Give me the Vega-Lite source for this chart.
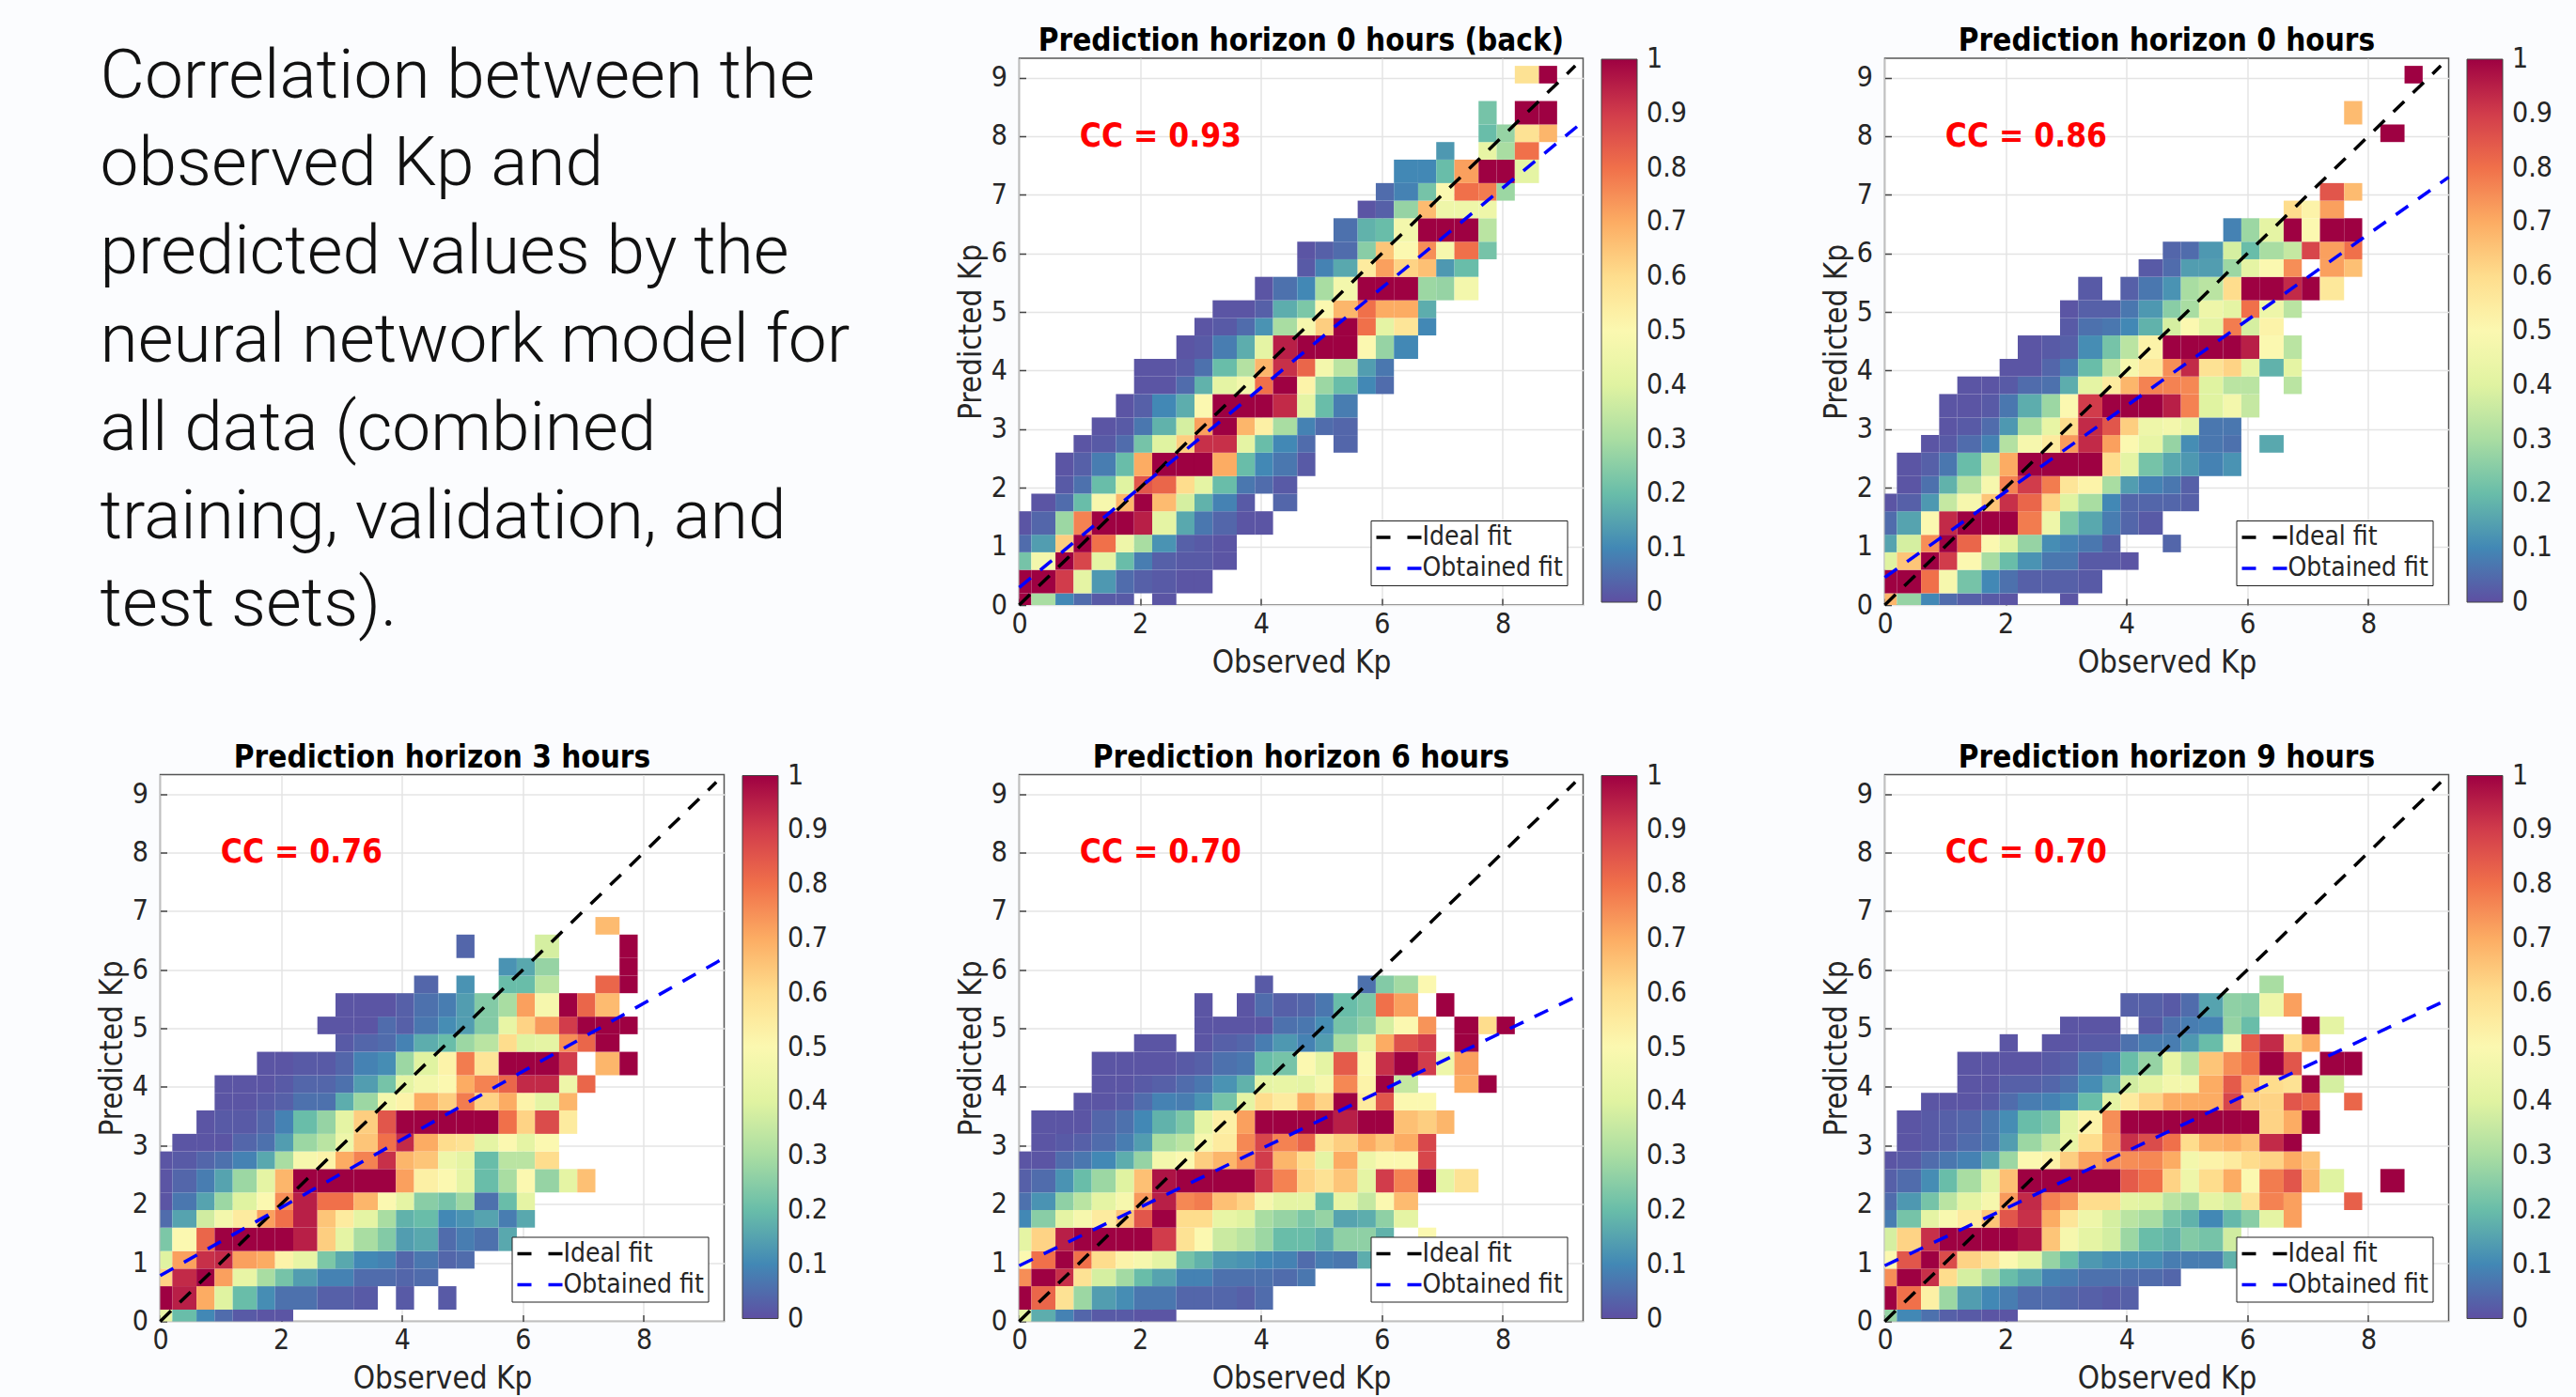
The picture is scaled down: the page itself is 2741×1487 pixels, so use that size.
{"$schema":"https://vega.github.io/schema/vega-lite/v6.json","background":"#fbfcfe","padding":{"left":102.5,"top":27,"right":32,"bottom":7},"bounds":"flush","columns":5,"spacing":{"row":180.5,"column":0},"resolve":{"scale":{"color":"independent","stroke":"independent"},"legend":{"color":"independent","stroke":"independent"}},
"config":{"view":{"stroke":"#555","strokeWidth":1.5,"fill":"white"},"font":"DejaVu Sans Condensed","title":{"font":"DejaVu Sans Condensed","fontSize":33,"fontWeight":"bold","color":"#000","offset":1},"axis":{"labelFont":"DejaVu Sans Condensed","titleFont":"DejaVu Sans Condensed","labelFontSize":30,"titleFontSize":33,"titleFontWeight":"normal","labelColor":"#262626","titleColor":"#262626","gridColor":"#e4e4e4","gridWidth":1.5,"domain":false,"tickColor":"#444","tickSize":-7,"tickWidth":1.5,"labelPadding":12,"titlePadding":10,"labelOverlap":false,"labelFlush":false},"axisY":{"labelPadding":20,"titlePadding":4},"legend":{"labelFont":"DejaVu Sans Condensed","labelFontSize":30,"labelColor":"#262626"}},
"datasets":{
"bins":[{"i":0,"lo":0,"hi":0.2},{"i":1,"lo":0.2,"hi":0.6},{"i":2,"lo":0.6,"hi":0.9},{"i":3,"lo":0.9,"hi":1.2},{"i":4,"lo":1.2,"hi":1.6},{"i":5,"lo":1.6,"hi":1.9},{"i":6,"lo":1.9,"hi":2.2},{"i":7,"lo":2.2,"hi":2.6},{"i":8,"lo":2.6,"hi":2.9},{"i":9,"lo":2.9,"hi":3.2},{"i":10,"lo":3.2,"hi":3.6},{"i":11,"lo":3.6,"hi":3.9},{"i":12,"lo":3.9,"hi":4.2},{"i":13,"lo":4.2,"hi":4.6},{"i":14,"lo":4.6,"hi":4.9},{"i":15,"lo":4.9,"hi":5.2},{"i":16,"lo":5.2,"hi":5.6},{"i":17,"lo":5.6,"hi":5.9},{"i":18,"lo":5.9,"hi":6.2},{"i":19,"lo":6.2,"hi":6.6},{"i":20,"lo":6.6,"hi":6.9},{"i":21,"lo":6.9,"hi":7.2},{"i":22,"lo":7.2,"hi":7.6},{"i":23,"lo":7.6,"hi":7.9},{"i":24,"lo":7.9,"hi":8.2},{"i":25,"lo":8.2,"hi":8.6},{"i":26,"lo":8.6,"hi":8.9},{"i":27,"lo":8.9,"hi":9.2}],
"intro":[{"line":1,"text":"Correlation between the"},{"line":2,"text":"observed Kp and"},{"line":3,"text":"predicted values by the"},{"line":4,"text":"neural network model for"},{"line":5,"text":"all data (combined"},{"line":6,"text":"training, validation, and"},{"line":7,"text":"test sets)."}],
"f1":[{"fit":"Ideal fit","x":0,"y":0},{"fit":"Ideal fit","x":9.2,"y":9.2},{"fit":"Obtained fit","x":0,"y":0.3},{"fit":"Obtained fit","x":9.33,"y":8.25}],
"f2":[{"fit":"Ideal fit","x":0,"y":0},{"fit":"Ideal fit","x":9.2,"y":9.2},{"fit":"Obtained fit","x":0,"y":0.47},{"fit":"Obtained fit","x":9.33,"y":7.3}],
"f3":[{"fit":"Ideal fit","x":0,"y":0},{"fit":"Ideal fit","x":9.2,"y":9.2},{"fit":"Obtained fit","x":0,"y":0.78},{"fit":"Obtained fit","x":9.33,"y":6.2}],
"f4":[{"fit":"Ideal fit","x":0,"y":0},{"fit":"Ideal fit","x":9.2,"y":9.2},{"fit":"Obtained fit","x":0,"y":0.95},{"fit":"Obtained fit","x":9.33,"y":5.6}],
"f5":[{"fit":"Ideal fit","x":0,"y":0},{"fit":"Ideal fit","x":9.2,"y":9.2},{"fit":"Obtained fit","x":0,"y":0.95},{"fit":"Obtained fit","x":9.33,"y":5.5}],
"p1":[
{"i":0,"j":0,"v":1},{"i":1,"j":0,"v":0.3},{"i":2,"j":0,"v":0.1},{"i":3,"j":0,"v":0.05},{"i":4,"j":0,"v":0.02},{"i":5,"j":0,"v":0.02},{"i":7,"j":0,"v":0.01},
{"i":0,"j":1,"v":1},{"i":1,"j":1,"v":1},{"i":2,"j":1,"v":0.9},{"i":3,"j":1,"v":0.42},{"i":4,"j":1,"v":0.13},{"i":5,"j":1,"v":0.05},{"i":6,"j":1,"v":0.03},{"i":7,"j":1,"v":0.02},{"i":8,"j":1,"v":0.01},{"i":9,"j":1,"v":0.01},
{"i":0,"j":2,"v":0.22},{"i":1,"j":2,"v":0.47},{"i":2,"j":2,"v":1},{"i":3,"j":2,"v":0.88},{"i":4,"j":2,"v":0.42},{"i":5,"j":2,"v":0.2},{"i":6,"j":2,"v":0.08},{"i":7,"j":2,"v":0.03},{"i":8,"j":2,"v":0.02},{"i":9,"j":2,"v":0.02},{"i":10,"j":2,"v":0.01},
{"i":0,"j":3,"v":0.05},{"i":1,"j":3,"v":0.14},{"i":2,"j":3,"v":0.63},{"i":3,"j":3,"v":1},{"i":4,"j":3,"v":0.8},{"i":5,"j":3,"v":0.45},{"i":6,"j":3,"v":0.3},{"i":7,"j":3,"v":0.12},{"i":8,"j":3,"v":0.03},{"i":9,"j":3,"v":0.02},{"i":10,"j":3,"v":0.01},
{"i":0,"j":4,"v":0.01},{"i":1,"j":4,"v":0.04},{"i":2,"j":4,"v":0.28},{"i":3,"j":4,"v":0.77},{"i":4,"j":4,"v":1},{"i":5,"j":4,"v":1},{"i":6,"j":4,"v":0.95},{"i":7,"j":4,"v":0.42},{"i":8,"j":4,"v":0.16},{"i":9,"j":4,"v":0.07},{"i":10,"j":4,"v":0.04},{"i":11,"j":4,"v":0.01},{"i":12,"j":4,"v":0.01},
{"i":1,"j":5,"v":0.01},{"i":2,"j":5,"v":0.05},{"i":3,"j":5,"v":0.2},{"i":4,"j":5,"v":0.48},{"i":5,"j":5,"v":0.68},{"i":6,"j":5,"v":1},{"i":7,"j":5,"v":0.67},{"i":8,"j":5,"v":0.38},{"i":9,"j":5,"v":0.18},{"i":10,"j":5,"v":0.09},{"i":11,"j":5,"v":0.02},{"i":13,"j":5,"v":0.04},
{"i":2,"j":6,"v":0.02},{"i":3,"j":6,"v":0.06},{"i":4,"j":6,"v":0.2},{"i":5,"j":6,"v":0.4},{"i":6,"j":6,"v":0.85},{"i":7,"j":6,"v":0.82},{"i":8,"j":6,"v":0.6},{"i":9,"j":6,"v":0.42},{"i":10,"j":6,"v":0.2},{"i":11,"j":6,"v":0.07},{"i":12,"j":6,"v":0.05},{"i":13,"j":6,"v":0.02},
{"i":2,"j":7,"v":0.01},{"i":3,"j":7,"v":0.03},{"i":4,"j":7,"v":0.08},{"i":5,"j":7,"v":0.2},{"i":6,"j":7,"v":0.7},{"i":7,"j":7,"v":1},{"i":8,"j":7,"v":1},{"i":9,"j":7,"v":1},{"i":10,"j":7,"v":0.7},{"i":11,"j":7,"v":0.2},{"i":12,"j":7,"v":0.1},{"i":13,"j":7,"v":0.07},{"i":14,"j":7,"v":0.02},
{"i":3,"j":8,"v":0.01},{"i":4,"j":8,"v":0.02},{"i":5,"j":8,"v":0.05},{"i":6,"j":8,"v":0.22},{"i":7,"j":8,"v":0.4},{"i":8,"j":8,"v":0.63},{"i":9,"j":8,"v":0.92},{"i":10,"j":8,"v":0.92},{"i":11,"j":8,"v":0.42},{"i":12,"j":8,"v":0.2},{"i":13,"j":8,"v":0.1},{"i":14,"j":8,"v":0.05},{"i":16,"j":8,"v":0.04},
{"i":4,"j":9,"v":0.01},{"i":5,"j":9,"v":0.02},{"i":6,"j":9,"v":0.07},{"i":7,"j":9,"v":0.18},{"i":8,"j":9,"v":0.38},{"i":9,"j":9,"v":0.72},{"i":10,"j":9,"v":1},{"i":11,"j":9,"v":0.68},{"i":12,"j":9,"v":0.53},{"i":13,"j":9,"v":0.3},{"i":14,"j":9,"v":0.09},{"i":15,"j":9,"v":0.05},{"i":16,"j":9,"v":0.04},
{"i":5,"j":10,"v":0.01},{"i":6,"j":10,"v":0.03},{"i":7,"j":10,"v":0.1},{"i":8,"j":10,"v":0.17},{"i":9,"j":10,"v":0.5},{"i":10,"j":10,"v":1},{"i":11,"j":10,"v":1},{"i":12,"j":10,"v":1},{"i":13,"j":10,"v":0.93},{"i":14,"j":10,"v":0.42},{"i":15,"j":10,"v":0.2},{"i":16,"j":10,"v":0.08},
{"i":6,"j":11,"v":0.01},{"i":7,"j":11,"v":0.01},{"i":8,"j":11,"v":0.05},{"i":9,"j":11,"v":0.18},{"i":10,"j":11,"v":0.42},{"i":11,"j":11,"v":0.47},{"i":12,"j":11,"v":0.8},{"i":13,"j":11,"v":1},{"i":14,"j":11,"v":0.52},{"i":15,"j":11,"v":0.28},{"i":16,"j":11,"v":0.2},{"i":17,"j":11,"v":0.1},{"i":18,"j":11,"v":0.05},
{"i":6,"j":12,"v":0.01},{"i":7,"j":12,"v":0.01},{"i":8,"j":12,"v":0.02},{"i":9,"j":12,"v":0.06},{"i":10,"j":12,"v":0.2},{"i":11,"j":12,"v":0.32},{"i":12,"j":12,"v":0.68},{"i":13,"j":12,"v":0.92},{"i":14,"j":12,"v":0.82},{"i":15,"j":12,"v":0.47},{"i":16,"j":12,"v":0.33},{"i":17,"j":12,"v":0.14},{"i":18,"j":12,"v":0.07},
{"i":8,"j":13,"v":0.01},{"i":9,"j":13,"v":0.02},{"i":10,"j":13,"v":0.08},{"i":11,"j":13,"v":0.17},{"i":12,"j":13,"v":0.42},{"i":13,"j":13,"v":0.95},{"i":14,"j":13,"v":1},{"i":15,"j":13,"v":1},{"i":16,"j":13,"v":1},{"i":17,"j":13,"v":0.5},{"i":18,"j":13,"v":0.27},{"i":19,"j":13,"v":0.1},
{"i":9,"j":14,"v":0.01},{"i":10,"j":14,"v":0.02},{"i":11,"j":14,"v":0.05},{"i":12,"j":14,"v":0.12},{"i":13,"j":14,"v":0.3},{"i":14,"j":14,"v":0.48},{"i":15,"j":14,"v":0.63},{"i":16,"j":14,"v":1},{"i":17,"j":14,"v":0.8},{"i":18,"j":14,"v":0.42},{"i":19,"j":14,"v":0.57},{"i":20,"j":14,"v":0.1},
{"i":10,"j":15,"v":0.01},{"i":11,"j":15,"v":0.01},{"i":12,"j":15,"v":0.03},{"i":13,"j":15,"v":0.17},{"i":14,"j":15,"v":0.23},{"i":15,"j":15,"v":0.5},{"i":16,"j":15,"v":0.68},{"i":17,"j":15,"v":0.8},{"i":18,"j":15,"v":0.7},{"i":19,"j":15,"v":0.7},{"i":20,"j":15,"v":0.17},
{"i":12,"j":16,"v":0.01},{"i":13,"j":16,"v":0.06},{"i":14,"j":16,"v":0.1},{"i":15,"j":16,"v":0.3},{"i":16,"j":16,"v":0.47},{"i":17,"j":16,"v":1},{"i":18,"j":16,"v":1},{"i":19,"j":16,"v":1},{"i":20,"j":16,"v":0.28},{"i":21,"j":16,"v":0.27},{"i":22,"j":16,"v":0.47},
{"i":14,"j":17,"v":0.02},{"i":15,"j":17,"v":0.09},{"i":16,"j":17,"v":0.16},{"i":17,"j":17,"v":0.55},{"i":18,"j":17,"v":0.72},{"i":19,"j":17,"v":0.62},{"i":20,"j":17,"v":0.66},{"i":21,"j":17,"v":0.13},{"i":22,"j":17,"v":0.2},
{"i":14,"j":18,"v":0.01},{"i":15,"j":18,"v":0.03},{"i":16,"j":18,"v":0.05},{"i":17,"j":18,"v":0.25},{"i":18,"j":18,"v":0.65},{"i":19,"j":18,"v":0.5},{"i":20,"j":18,"v":0.75},{"i":21,"j":18,"v":0.48},{"i":22,"j":18,"v":0.8},{"i":23,"j":18,"v":0.22},
{"i":16,"j":19,"v":0.06},{"i":17,"j":19,"v":0.18},{"i":18,"j":19,"v":0.2},{"i":19,"j":19,"v":0.47},{"i":20,"j":19,"v":1},{"i":21,"j":19,"v":1},{"i":22,"j":19,"v":1},{"i":23,"j":19,"v":0.33},
{"i":17,"j":20,"v":0.01},{"i":18,"j":20,"v":0.03},{"i":19,"j":20,"v":0.27},{"i":20,"j":20,"v":0.67},{"i":21,"j":20,"v":0.45},{"i":22,"j":20,"v":0.45},{"i":23,"j":20,"v":0.45},
{"i":18,"j":21,"v":0.05},{"i":19,"j":21,"v":0.09},{"i":20,"j":21,"v":0.22},{"i":21,"j":21,"v":0.5},{"i":22,"j":21,"v":0.8},{"i":23,"j":21,"v":0.78},{"i":24,"j":21,"v":0.28},
{"i":19,"j":22,"v":0.1},{"i":20,"j":22,"v":0.1},{"i":21,"j":22,"v":0.2},{"i":22,"j":22,"v":0.72},{"i":23,"j":22,"v":1},{"i":24,"j":22,"v":1},{"i":25,"j":22,"v":0.42},
{"i":21,"j":23,"v":0.13},{"i":23,"j":23,"v":0.43},{"i":24,"j":23,"v":0.3},{"i":25,"j":23,"v":0.8},
{"i":23,"j":24,"v":0.2},{"i":24,"j":24,"v":0.27},{"i":25,"j":24,"v":0.58},{"i":26,"j":24,"v":0.68},
{"i":23,"j":25,"v":0.22},{"i":25,"j":25,"v":1},{"i":26,"j":25,"v":1},
{"i":25,"j":27,"v":0.58},{"i":26,"j":27,"v":1}],
"p2":[
{"i":0,"j":0,"v":0.68},{"i":1,"j":0,"v":0.27},{"i":2,"j":0,"v":0.1},{"i":3,"j":0,"v":0.05},{"i":4,"j":0,"v":0.03},{"i":5,"j":0,"v":0.02},{"i":6,"j":0,"v":0.01},{"i":9,"j":0,"v":0.01},
{"i":0,"j":1,"v":1},{"i":1,"j":1,"v":1},{"i":2,"j":1,"v":0.8},{"i":3,"j":1,"v":0.48},{"i":4,"j":1,"v":0.22},{"i":5,"j":1,"v":0.1},{"i":6,"j":1,"v":0.06},{"i":7,"j":1,"v":0.03},{"i":8,"j":1,"v":0.03},{"i":9,"j":1,"v":0.03},{"i":10,"j":1,"v":0.02},
{"i":0,"j":2,"v":0.4},{"i":1,"j":2,"v":0.65},{"i":2,"j":2,"v":1},{"i":3,"j":2,"v":0.9},{"i":4,"j":2,"v":0.5},{"i":5,"j":2,"v":0.3},{"i":6,"j":2,"v":0.2},{"i":7,"j":2,"v":0.12},{"i":8,"j":2,"v":0.07},{"i":9,"j":2,"v":0.07},{"i":10,"j":2,"v":0.02},{"i":11,"j":2,"v":0.02},{"i":12,"j":2,"v":0.01},
{"i":0,"j":3,"v":0.15},{"i":1,"j":3,"v":0.38},{"i":2,"j":3,"v":0.75},{"i":3,"j":3,"v":1},{"i":4,"j":3,"v":0.82},{"i":5,"j":3,"v":0.5},{"i":6,"j":3,"v":0.4},{"i":7,"j":3,"v":0.27},{"i":8,"j":3,"v":0.11},{"i":9,"j":3,"v":0.09},{"i":10,"j":3,"v":0.07},{"i":11,"j":3,"v":0.03},{"i":14,"j":3,"v":0.04},
{"i":0,"j":4,"v":0.05},{"i":1,"j":4,"v":0.15},{"i":2,"j":4,"v":0.5},{"i":3,"j":4,"v":0.93},{"i":4,"j":4,"v":1},{"i":5,"j":4,"v":1},{"i":6,"j":4,"v":1},{"i":7,"j":4,"v":0.78},{"i":8,"j":4,"v":0.45},{"i":9,"j":4,"v":0.23},{"i":10,"j":4,"v":0.16},{"i":11,"j":4,"v":0.08},{"i":12,"j":4,"v":0.04},{"i":13,"j":4,"v":0.02},
{"i":0,"j":5,"v":0.01},{"i":1,"j":5,"v":0.03},{"i":2,"j":5,"v":0.13},{"i":3,"j":5,"v":0.35},{"i":4,"j":5,"v":0.48},{"i":5,"j":5,"v":0.65},{"i":6,"j":5,"v":0.92},{"i":7,"j":5,"v":0.82},{"i":8,"j":5,"v":0.62},{"i":9,"j":5,"v":0.4},{"i":10,"j":5,"v":0.3},{"i":11,"j":5,"v":0.1},{"i":12,"j":5,"v":0.04},{"i":13,"j":5,"v":0.04},{"i":14,"j":5,"v":0.04},{"i":15,"j":5,"v":0.03},
{"i":1,"j":6,"v":0.01},{"i":2,"j":6,"v":0.06},{"i":3,"j":6,"v":0.18},{"i":4,"j":6,"v":0.32},{"i":5,"j":6,"v":0.48},{"i":6,"j":6,"v":0.77},{"i":7,"j":6,"v":0.9},{"i":8,"j":6,"v":0.78},{"i":9,"j":6,"v":0.57},{"i":10,"j":6,"v":0.52},{"i":11,"j":6,"v":0.3},{"i":12,"j":6,"v":0.14},{"i":13,"j":6,"v":0.09},{"i":14,"j":6,"v":0.07},{"i":15,"j":6,"v":0.03},
{"i":1,"j":7,"v":0.01},{"i":2,"j":7,"v":0.03},{"i":3,"j":7,"v":0.07},{"i":4,"j":7,"v":0.2},{"i":5,"j":7,"v":0.36},{"i":6,"j":7,"v":0.7},{"i":7,"j":7,"v":1},{"i":8,"j":7,"v":1},{"i":9,"j":7,"v":1},{"i":10,"j":7,"v":1},{"i":11,"j":7,"v":0.6},{"i":12,"j":7,"v":0.42},{"i":13,"j":7,"v":0.22},{"i":14,"j":7,"v":0.16},{"i":15,"j":7,"v":0.13},{"i":16,"j":7,"v":0.09},{"i":17,"j":7,"v":0.12},
{"i":2,"j":8,"v":0.01},{"i":3,"j":8,"v":0.02},{"i":4,"j":8,"v":0.05},{"i":5,"j":8,"v":0.09},{"i":6,"j":8,"v":0.32},{"i":7,"j":8,"v":0.48},{"i":8,"j":8,"v":0.55},{"i":9,"j":8,"v":0.73},{"i":10,"j":8,"v":0.93},{"i":11,"j":8,"v":0.72},{"i":12,"j":8,"v":0.5},{"i":13,"j":8,"v":0.43},{"i":14,"j":8,"v":0.27},{"i":15,"j":8,"v":0.11},{"i":16,"j":8,"v":0.07},{"i":17,"j":8,"v":0.06},{"i":19,"j":8,"v":0.16},
{"i":3,"j":9,"v":0.01},{"i":4,"j":9,"v":0.02},{"i":5,"j":9,"v":0.05},{"i":6,"j":9,"v":0.13},{"i":7,"j":9,"v":0.3},{"i":8,"j":9,"v":0.43},{"i":9,"j":9,"v":0.6},{"i":10,"j":9,"v":0.93},{"i":11,"j":9,"v":0.85},{"i":12,"j":9,"v":0.63},{"i":13,"j":9,"v":0.45},{"i":14,"j":9,"v":0.47},{"i":15,"j":9,"v":0.43},{"i":16,"j":9,"v":0.07},{"i":17,"j":9,"v":0.07},
{"i":3,"j":10,"v":0.01},{"i":4,"j":10,"v":0.01},{"i":5,"j":10,"v":0.02},{"i":6,"j":10,"v":0.07},{"i":7,"j":10,"v":0.17},{"i":8,"j":10,"v":0.28},{"i":9,"j":10,"v":0.5},{"i":10,"j":10,"v":0.9},{"i":11,"j":10,"v":1},{"i":12,"j":10,"v":1},{"i":13,"j":10,"v":1},{"i":14,"j":10,"v":0.95},{"i":15,"j":10,"v":0.77},{"i":16,"j":10,"v":0.4},{"i":17,"j":10,"v":0.47},{"i":18,"j":10,"v":0.35},
{"i":4,"j":11,"v":0.01},{"i":5,"j":11,"v":0.01},{"i":6,"j":11,"v":0.02},{"i":7,"j":11,"v":0.05},{"i":8,"j":11,"v":0.06},{"i":9,"j":11,"v":0.17},{"i":10,"j":11,"v":0.42},{"i":11,"j":11,"v":0.55},{"i":12,"j":11,"v":0.68},{"i":13,"j":11,"v":0.77},{"i":14,"j":11,"v":0.77},{"i":15,"j":11,"v":0.76},{"i":16,"j":11,"v":0.4},{"i":17,"j":11,"v":0.33},{"i":18,"j":11,"v":0.33},{"i":20,"j":11,"v":0.33},
{"i":6,"j":12,"v":0.01},{"i":7,"j":12,"v":0.01},{"i":8,"j":12,"v":0.04},{"i":9,"j":12,"v":0.08},{"i":10,"j":12,"v":0.2},{"i":11,"j":12,"v":0.33},{"i":12,"j":12,"v":0.48},{"i":13,"j":12,"v":0.56},{"i":14,"j":12,"v":0.75},{"i":15,"j":12,"v":0.93},{"i":16,"j":12,"v":0.58},{"i":17,"j":12,"v":0.62},{"i":18,"j":12,"v":0.43},{"i":19,"j":12,"v":0.18},{"i":20,"j":12,"v":0.42},
{"i":7,"j":13,"v":0.01},{"i":8,"j":13,"v":0.02},{"i":9,"j":13,"v":0.03},{"i":10,"j":13,"v":0.11},{"i":11,"j":13,"v":0.22},{"i":12,"j":13,"v":0.33},{"i":13,"j":13,"v":0.52},{"i":14,"j":13,"v":1},{"i":15,"j":13,"v":1},{"i":16,"j":13,"v":1},{"i":17,"j":13,"v":1},{"i":18,"j":13,"v":0.95},{"i":19,"j":13,"v":0.5},{"i":20,"j":13,"v":0.33},
{"i":9,"j":14,"v":0.02},{"i":10,"j":14,"v":0.06},{"i":11,"j":14,"v":0.07},{"i":12,"j":14,"v":0.1},{"i":13,"j":14,"v":0.18},{"i":14,"j":14,"v":0.38},{"i":15,"j":14,"v":0.5},{"i":16,"j":14,"v":0.42},{"i":17,"j":14,"v":0.78},{"i":18,"j":14,"v":0.38},{"i":19,"j":14,"v":0.52},
{"i":9,"j":15,"v":0.01},{"i":10,"j":15,"v":0.03},{"i":11,"j":15,"v":0.03},{"i":12,"j":15,"v":0.07},{"i":13,"j":15,"v":0.13},{"i":14,"j":15,"v":0.25},{"i":15,"j":15,"v":0.3},{"i":16,"j":15,"v":0.45},{"i":17,"j":15,"v":0.42},{"i":18,"j":15,"v":0.8},{"i":19,"j":15,"v":0.45},{"i":20,"j":15,"v":0.33},
{"i":10,"j":16,"v":0.02},{"i":12,"j":16,"v":0.03},{"i":13,"j":16,"v":0.07},{"i":14,"j":16,"v":0.12},{"i":15,"j":16,"v":0.3},{"i":16,"j":16,"v":0.33},{"i":17,"j":16,"v":0.6},{"i":18,"j":16,"v":1},{"i":19,"j":16,"v":1},{"i":20,"j":16,"v":0.93},{"i":21,"j":16,"v":1},{"i":22,"j":16,"v":0.56},
{"i":13,"j":17,"v":0.02},{"i":14,"j":17,"v":0.05},{"i":15,"j":17,"v":0.14},{"i":16,"j":17,"v":0.14},{"i":17,"j":17,"v":0.28},{"i":18,"j":17,"v":0.42},{"i":19,"j":17,"v":0.5},{"i":20,"j":17,"v":0.75},{"i":22,"j":17,"v":0.72},{"i":23,"j":17,"v":0.66},
{"i":14,"j":18,"v":0.04},{"i":15,"j":18,"v":0.05},{"i":16,"j":18,"v":0.13},{"i":17,"j":18,"v":0.38},{"i":18,"j":18,"v":0.2},{"i":19,"j":18,"v":0.3},{"i":20,"j":18,"v":0.35},{"i":21,"j":18,"v":0.88},{"i":22,"j":18,"v":0.72},{"i":23,"j":18,"v":0.8},
{"i":17,"j":19,"v":0.09},{"i":18,"j":19,"v":0.28},{"i":19,"j":19,"v":0.42},{"i":20,"j":19,"v":1},{"i":21,"j":19,"v":0.5},{"i":22,"j":19,"v":1},{"i":23,"j":19,"v":1},
{"i":20,"j":20,"v":0.6},{"i":21,"j":20,"v":0.52},{"i":22,"j":20,"v":0.72},
{"i":22,"j":21,"v":0.85},{"i":23,"j":21,"v":0.67},
{"i":25,"j":24,"v":1},{"i":23,"j":25,"v":0.67},{"i":26,"j":27,"v":1}],
"p3":[
{"i":0,"j":0,"v":0.43},{"i":1,"j":0,"v":0.2},{"i":2,"j":0,"v":0.1},{"i":3,"j":0,"v":0.05},{"i":4,"j":0,"v":0.02},{"i":5,"j":0,"v":0.01},{"i":6,"j":0,"v":0.01},
{"i":0,"j":1,"v":1},{"i":1,"j":1,"v":0.95},{"i":2,"j":1,"v":0.7},{"i":3,"j":1,"v":0.4},{"i":4,"j":1,"v":0.2},{"i":5,"j":1,"v":0.11},{"i":6,"j":1,"v":0.06},{"i":7,"j":1,"v":0.06},{"i":8,"j":1,"v":0.03},{"i":9,"j":1,"v":0.03},{"i":10,"j":1,"v":0.02},{"i":12,"j":1,"v":0.02},{"i":14,"j":1,"v":0.02},
{"i":0,"j":2,"v":0.62},{"i":1,"j":2,"v":0.93},{"i":2,"j":2,"v":1},{"i":3,"j":2,"v":0.72},{"i":4,"j":2,"v":0.43},{"i":5,"j":2,"v":0.3},{"i":6,"j":2,"v":0.22},{"i":7,"j":2,"v":0.14},{"i":8,"j":2,"v":0.09},{"i":9,"j":2,"v":0.09},{"i":10,"j":2,"v":0.05},{"i":11,"j":2,"v":0.05},{"i":12,"j":2,"v":0.04},{"i":13,"j":2,"v":0.05},
{"i":0,"j":3,"v":0.4},{"i":1,"j":3,"v":0.72},{"i":2,"j":3,"v":0.92},{"i":3,"j":3,"v":0.93},{"i":4,"j":3,"v":0.72},{"i":5,"j":3,"v":0.7},{"i":6,"j":3,"v":0.52},{"i":7,"j":3,"v":0.43},{"i":8,"j":3,"v":0.23},{"i":9,"j":3,"v":0.16},{"i":10,"j":3,"v":0.1},{"i":11,"j":3,"v":0.09},{"i":12,"j":3,"v":0.04},{"i":13,"j":3,"v":0.07},{"i":14,"j":3,"v":0.04},{"i":15,"j":3,"v":0.05},
{"i":0,"j":4,"v":0.23},{"i":1,"j":4,"v":0.5},{"i":2,"j":4,"v":0.82},{"i":3,"j":4,"v":1},{"i":4,"j":4,"v":1},{"i":5,"j":4,"v":1},{"i":6,"j":4,"v":1},{"i":7,"j":4,"v":0.95},{"i":8,"j":4,"v":0.63},{"i":9,"j":4,"v":0.42},{"i":10,"j":4,"v":0.3},{"i":11,"j":4,"v":0.24},{"i":12,"j":4,"v":0.14},{"i":13,"j":4,"v":0.16},{"i":14,"j":4,"v":0.05},{"i":15,"j":4,"v":0.08},{"i":16,"j":4,"v":0.06},{"i":17,"j":4,"v":0.16},
{"i":0,"j":5,"v":0.05},{"i":1,"j":5,"v":0.15},{"i":2,"j":5,"v":0.37},{"i":3,"j":5,"v":0.47},{"i":4,"j":5,"v":0.55},{"i":5,"j":5,"v":0.72},{"i":6,"j":5,"v":0.8},{"i":7,"j":5,"v":0.95},{"i":8,"j":5,"v":0.65},{"i":9,"j":5,"v":0.55},{"i":10,"j":5,"v":0.42},{"i":11,"j":5,"v":0.3},{"i":12,"j":5,"v":0.18},{"i":13,"j":5,"v":0.2},{"i":14,"j":5,"v":0.1},{"i":15,"j":5,"v":0.12},{"i":16,"j":5,"v":0.15},{"i":17,"j":5,"v":0.08},{"i":18,"j":5,"v":0.16},
{"i":0,"j":6,"v":0.01},{"i":1,"j":6,"v":0.07},{"i":2,"j":6,"v":0.15},{"i":3,"j":6,"v":0.28},{"i":4,"j":6,"v":0.4},{"i":5,"j":6,"v":0.5},{"i":6,"j":6,"v":0.75},{"i":7,"j":6,"v":0.95},{"i":8,"j":6,"v":0.8},{"i":9,"j":6,"v":0.8},{"i":10,"j":6,"v":0.68},{"i":11,"j":6,"v":0.5},{"i":12,"j":6,"v":0.42},{"i":13,"j":6,"v":0.25},{"i":14,"j":6,"v":0.22},{"i":15,"j":6,"v":0.28},{"i":16,"j":6,"v":0.06},{"i":17,"j":6,"v":0.2},{"i":18,"j":6,"v":0.42},
{"i":0,"j":7,"v":0.01},{"i":1,"j":7,"v":0.04},{"i":2,"j":7,"v":0.08},{"i":3,"j":7,"v":0.15},{"i":4,"j":7,"v":0.28},{"i":5,"j":7,"v":0.42},{"i":6,"j":7,"v":0.68},{"i":7,"j":7,"v":1},{"i":8,"j":7,"v":1},{"i":9,"j":7,"v":1},{"i":10,"j":7,"v":1},{"i":11,"j":7,"v":1},{"i":12,"j":7,"v":0.72},{"i":13,"j":7,"v":0.53},{"i":14,"j":7,"v":0.5},{"i":15,"j":7,"v":0.42},{"i":16,"j":7,"v":0.2},{"i":17,"j":7,"v":0.3},{"i":18,"j":7,"v":0.5},{"i":19,"j":7,"v":0.27},{"i":20,"j":7,"v":0.42},{"i":21,"j":7,"v":0.66},
{"i":0,"j":8,"v":0.01},{"i":1,"j":8,"v":0.02},{"i":2,"j":8,"v":0.04},{"i":3,"j":8,"v":0.06},{"i":4,"j":8,"v":0.09},{"i":5,"j":8,"v":0.16},{"i":6,"j":8,"v":0.3},{"i":7,"j":8,"v":0.48},{"i":8,"j":8,"v":0.52},{"i":9,"j":8,"v":0.7},{"i":10,"j":8,"v":0.77},{"i":11,"j":8,"v":0.92},{"i":12,"j":8,"v":0.68},{"i":13,"j":8,"v":0.65},{"i":14,"j":8,"v":0.45},{"i":15,"j":8,"v":0.42},{"i":16,"j":8,"v":0.2},{"i":17,"j":8,"v":0.33},{"i":18,"j":8,"v":0.33},{"i":19,"j":8,"v":0.6},
{"i":1,"j":9,"v":0.01},{"i":2,"j":9,"v":0.01},{"i":3,"j":9,"v":0.01},{"i":4,"j":9,"v":0.04},{"i":5,"j":9,"v":0.06},{"i":6,"j":9,"v":0.14},{"i":7,"j":9,"v":0.28},{"i":8,"j":9,"v":0.33},{"i":9,"j":9,"v":0.45},{"i":10,"j":9,"v":0.65},{"i":11,"j":9,"v":0.8},{"i":12,"j":9,"v":0.93},{"i":13,"j":9,"v":0.7},{"i":14,"j":9,"v":0.6},{"i":15,"j":9,"v":0.58},{"i":16,"j":9,"v":0.42},{"i":17,"j":9,"v":0.5},{"i":18,"j":9,"v":0.42},{"i":19,"j":9,"v":0.5},
{"i":2,"j":10,"v":0.01},{"i":3,"j":10,"v":0.02},{"i":4,"j":10,"v":0.02},{"i":5,"j":10,"v":0.04},{"i":6,"j":10,"v":0.09},{"i":7,"j":10,"v":0.2},{"i":8,"j":10,"v":0.27},{"i":9,"j":10,"v":0.42},{"i":10,"j":10,"v":0.63},{"i":11,"j":10,"v":0.85},{"i":12,"j":10,"v":1},{"i":13,"j":10,"v":1},{"i":14,"j":10,"v":1},{"i":15,"j":10,"v":1},{"i":16,"j":10,"v":1},{"i":17,"j":10,"v":0.8},{"i":18,"j":10,"v":0.62},{"i":19,"j":10,"v":0.87},{"i":20,"j":10,"v":0.55},
{"i":3,"j":11,"v":0.01},{"i":4,"j":11,"v":0.01},{"i":5,"j":11,"v":0.02},{"i":6,"j":11,"v":0.03},{"i":7,"j":11,"v":0.06},{"i":8,"j":11,"v":0.06},{"i":9,"j":11,"v":0.17},{"i":10,"j":11,"v":0.28},{"i":11,"j":11,"v":0.47},{"i":12,"j":11,"v":0.52},{"i":13,"j":11,"v":0.7},{"i":14,"j":11,"v":0.63},{"i":15,"j":11,"v":0.78},{"i":16,"j":11,"v":0.62},{"i":17,"j":11,"v":0.7},{"i":18,"j":11,"v":0.52},{"i":19,"j":11,"v":0.42},{"i":20,"j":11,"v":0.68},
{"i":3,"j":12,"v":0.01},{"i":4,"j":12,"v":0.01},{"i":5,"j":12,"v":0.01},{"i":6,"j":12,"v":0.02},{"i":7,"j":12,"v":0.04},{"i":8,"j":12,"v":0.04},{"i":9,"j":12,"v":0.06},{"i":10,"j":12,"v":0.14},{"i":11,"j":12,"v":0.22},{"i":12,"j":12,"v":0.42},{"i":13,"j":12,"v":0.47},{"i":14,"j":12,"v":0.5},{"i":15,"j":12,"v":0.7},{"i":16,"j":12,"v":0.77},{"i":17,"j":12,"v":0.82},{"i":18,"j":12,"v":0.93},{"i":19,"j":12,"v":0.93},{"i":20,"j":12,"v":0.45},{"i":21,"j":12,"v":0.82},
{"i":5,"j":13,"v":0.01},{"i":6,"j":13,"v":0.01},{"i":7,"j":13,"v":0.02},{"i":8,"j":13,"v":0.02},{"i":9,"j":13,"v":0.04},{"i":10,"j":13,"v":0.09},{"i":11,"j":13,"v":0.11},{"i":12,"j":13,"v":0.28},{"i":13,"j":13,"v":0.4},{"i":14,"j":13,"v":0.52},{"i":15,"j":13,"v":0.78},{"i":16,"j":13,"v":0.57},{"i":17,"j":13,"v":1},{"i":18,"j":13,"v":1},{"i":19,"j":13,"v":1},{"i":20,"j":13,"v":0.9},{"i":22,"j":13,"v":0.68},{"i":23,"j":13,"v":1},
{"i":9,"j":14,"v":0.02},{"i":10,"j":14,"v":0.04},{"i":11,"j":14,"v":0.05},{"i":12,"j":14,"v":0.09},{"i":13,"j":14,"v":0.17},{"i":14,"j":14,"v":0.2},{"i":15,"j":14,"v":0.28},{"i":16,"j":14,"v":0.33},{"i":17,"j":14,"v":0.6},{"i":18,"j":14,"v":0.4},{"i":19,"j":14,"v":0.42},{"i":20,"j":14,"v":0.75},{"i":21,"j":14,"v":0.82},{"i":22,"j":14,"v":1},
{"i":8,"j":15,"v":0.01},{"i":9,"j":15,"v":0.01},{"i":10,"j":15,"v":0.01},{"i":11,"j":15,"v":0.05},{"i":12,"j":15,"v":0.03},{"i":13,"j":15,"v":0.07},{"i":14,"j":15,"v":0.11},{"i":15,"j":15,"v":0.14},{"i":16,"j":15,"v":0.24},{"i":17,"j":15,"v":0.43},{"i":18,"j":15,"v":0.62},{"i":19,"j":15,"v":0.73},{"i":20,"j":15,"v":0.9},{"i":21,"j":15,"v":1},{"i":22,"j":15,"v":1},{"i":23,"j":15,"v":1},
{"i":9,"j":16,"v":0.01},{"i":10,"j":16,"v":0.01},{"i":11,"j":16,"v":0.01},{"i":12,"j":16,"v":0.03},{"i":13,"j":16,"v":0.06},{"i":14,"j":16,"v":0.08},{"i":15,"j":16,"v":0.14},{"i":16,"j":16,"v":0.24},{"i":17,"j":16,"v":0.3},{"i":18,"j":16,"v":0.72},{"i":19,"j":16,"v":0.48},{"i":20,"j":16,"v":1},{"i":21,"j":16,"v":0.82},{"i":22,"j":16,"v":0.67},
{"i":13,"j":17,"v":0.04},{"i":15,"j":17,"v":0.12},{"i":17,"j":17,"v":0.2},{"i":18,"j":17,"v":0.2},{"i":19,"j":17,"v":0.33},{"i":22,"j":17,"v":0.82},{"i":23,"j":17,"v":1},
{"i":17,"j":18,"v":0.12},{"i":18,"j":18,"v":0.16},{"i":19,"j":18,"v":0.27},{"i":23,"j":18,"v":1},
{"i":15,"j":19,"v":0.04},{"i":19,"j":19,"v":0.38},{"i":23,"j":19,"v":1},
{"i":22,"j":20,"v":0.67}],
"p4":[
{"i":0,"j":0,"v":0.42},{"i":1,"j":0,"v":0.17},{"i":2,"j":0,"v":0.09},{"i":3,"j":0,"v":0.04},{"i":4,"j":0,"v":0.02},{"i":5,"j":0,"v":0.02},{"i":6,"j":0,"v":0.01},{"i":7,"j":0,"v":0.01},
{"i":0,"j":1,"v":1},{"i":1,"j":1,"v":0.82},{"i":2,"j":1,"v":0.58},{"i":3,"j":1,"v":0.28},{"i":4,"j":1,"v":0.14},{"i":5,"j":1,"v":0.11},{"i":6,"j":1,"v":0.07},{"i":7,"j":1,"v":0.07},{"i":8,"j":1,"v":0.04},{"i":9,"j":1,"v":0.04},{"i":10,"j":1,"v":0.04},{"i":11,"j":1,"v":0.03},{"i":12,"j":1,"v":0.05},
{"i":0,"j":2,"v":0.75},{"i":1,"j":2,"v":1},{"i":2,"j":2,"v":0.92},{"i":3,"j":2,"v":0.58},{"i":4,"j":2,"v":0.38},{"i":5,"j":2,"v":0.29},{"i":6,"j":2,"v":0.2},{"i":7,"j":2,"v":0.15},{"i":8,"j":2,"v":0.09},{"i":9,"j":2,"v":0.09},{"i":10,"j":2,"v":0.06},{"i":11,"j":2,"v":0.06},{"i":12,"j":2,"v":0.06},{"i":13,"j":2,"v":0.05},{"i":14,"j":2,"v":0.07},
{"i":0,"j":3,"v":0.5},{"i":1,"j":3,"v":0.8},{"i":2,"j":3,"v":1},{"i":3,"j":3,"v":0.8},{"i":4,"j":3,"v":0.6},{"i":5,"j":3,"v":0.52},{"i":6,"j":3,"v":0.48},{"i":7,"j":3,"v":0.42},{"i":8,"j":3,"v":0.22},{"i":9,"j":3,"v":0.18},{"i":10,"j":3,"v":0.13},{"i":11,"j":3,"v":0.12},{"i":12,"j":3,"v":0.1},{"i":13,"j":3,"v":0.09},{"i":14,"j":3,"v":0.05},{"i":15,"j":3,"v":0.08},{"i":16,"j":3,"v":0.07},{"i":17,"j":3,"v":0.17},
{"i":0,"j":4,"v":0.42},{"i":1,"j":4,"v":0.62},{"i":2,"j":4,"v":0.95},{"i":3,"j":4,"v":1},{"i":4,"j":4,"v":1},{"i":5,"j":4,"v":1},{"i":6,"j":4,"v":1},{"i":7,"j":4,"v":0.9},{"i":8,"j":4,"v":0.58},{"i":9,"j":4,"v":0.5},{"i":10,"j":4,"v":0.36},{"i":11,"j":4,"v":0.33},{"i":12,"j":4,"v":0.28},{"i":13,"j":4,"v":0.2},{"i":14,"j":4,"v":0.2},{"i":15,"j":4,"v":0.17},{"i":16,"j":4,"v":0.26},{"i":17,"j":4,"v":0.26},{"i":18,"j":4,"v":0.18},{"i":20,"j":4,"v":0.5},
{"i":0,"j":5,"v":0.1},{"i":1,"j":5,"v":0.25},{"i":2,"j":5,"v":0.42},{"i":3,"j":5,"v":0.48},{"i":4,"j":5,"v":0.55},{"i":5,"j":5,"v":0.65},{"i":6,"j":5,"v":0.85},{"i":7,"j":5,"v":1},{"i":8,"j":5,"v":0.6},{"i":9,"j":5,"v":0.6},{"i":10,"j":5,"v":0.43},{"i":11,"j":5,"v":0.4},{"i":12,"j":5,"v":0.3},{"i":13,"j":5,"v":0.27},{"i":14,"j":5,"v":0.23},{"i":15,"j":5,"v":0.27},{"i":16,"j":5,"v":0.15},{"i":17,"j":5,"v":0.17},{"i":18,"j":5,"v":0.26},{"i":19,"j":5,"v":0.42},
{"i":0,"j":6,"v":0.06},{"i":1,"j":6,"v":0.12},{"i":2,"j":6,"v":0.26},{"i":3,"j":6,"v":0.33},{"i":4,"j":6,"v":0.42},{"i":5,"j":6,"v":0.48},{"i":6,"j":6,"v":0.73},{"i":7,"j":6,"v":0.95},{"i":8,"j":6,"v":0.76},{"i":9,"j":6,"v":0.78},{"i":10,"j":6,"v":0.66},{"i":11,"j":6,"v":0.62},{"i":12,"j":6,"v":0.48},{"i":13,"j":6,"v":0.42},{"i":14,"j":6,"v":0.42},{"i":15,"j":6,"v":0.2},{"i":16,"j":6,"v":0.43},{"i":17,"j":6,"v":0.35},{"i":18,"j":6,"v":0.5},{"i":19,"j":6,"v":0.67},
{"i":0,"j":7,"v":0.03},{"i":1,"j":7,"v":0.05},{"i":2,"j":7,"v":0.12},{"i":3,"j":7,"v":0.2},{"i":4,"j":7,"v":0.28},{"i":5,"j":7,"v":0.4},{"i":6,"j":7,"v":0.66},{"i":7,"j":7,"v":0.97},{"i":8,"j":7,"v":1},{"i":9,"j":7,"v":1},{"i":10,"j":7,"v":1},{"i":11,"j":7,"v":1},{"i":12,"j":7,"v":0.9},{"i":13,"j":7,"v":0.77},{"i":14,"j":7,"v":0.62},{"i":15,"j":7,"v":0.58},{"i":16,"j":7,"v":0.65},{"i":17,"j":7,"v":0.42},{"i":18,"j":7,"v":0.9},{"i":19,"j":7,"v":0.77},{"i":20,"j":7,"v":1},{"i":21,"j":7,"v":0.42},{"i":22,"j":7,"v":0.58},
{"i":0,"j":8,"v":0.01},{"i":1,"j":8,"v":0.01},{"i":2,"j":8,"v":0.05},{"i":3,"j":8,"v":0.07},{"i":4,"j":8,"v":0.1},{"i":5,"j":8,"v":0.17},{"i":6,"j":8,"v":0.27},{"i":7,"j":8,"v":0.47},{"i":8,"j":8,"v":0.5},{"i":9,"j":8,"v":0.63},{"i":10,"j":8,"v":0.68},{"i":11,"j":8,"v":0.76},{"i":12,"j":8,"v":0.9},{"i":13,"j":8,"v":0.68},{"i":14,"j":8,"v":0.6},{"i":15,"j":8,"v":0.42},{"i":16,"j":8,"v":0.7},{"i":17,"j":8,"v":0.45},{"i":18,"j":8,"v":0.5},{"i":19,"j":8,"v":0.5},{"i":20,"j":8,"v":0.88},
{"i":1,"j":9,"v":0.01},{"i":2,"j":9,"v":0.02},{"i":3,"j":9,"v":0.03},{"i":4,"j":9,"v":0.05},{"i":5,"j":9,"v":0.08},{"i":6,"j":9,"v":0.14},{"i":7,"j":9,"v":0.3},{"i":8,"j":9,"v":0.33},{"i":9,"j":9,"v":0.48},{"i":10,"j":9,"v":0.55},{"i":11,"j":9,"v":0.76},{"i":12,"j":9,"v":0.88},{"i":13,"j":9,"v":0.77},{"i":14,"j":9,"v":0.82},{"i":15,"j":9,"v":0.58},{"i":16,"j":9,"v":0.63},{"i":17,"j":9,"v":0.7},{"i":18,"j":9,"v":0.65},{"i":19,"j":9,"v":0.7},{"i":20,"j":9,"v":0.88},
{"i":1,"j":10,"v":0.01},{"i":2,"j":10,"v":0.01},{"i":3,"j":10,"v":0.01},{"i":4,"j":10,"v":0.04},{"i":5,"j":10,"v":0.06},{"i":6,"j":10,"v":0.1},{"i":7,"j":10,"v":0.18},{"i":8,"j":10,"v":0.23},{"i":9,"j":10,"v":0.42},{"i":10,"j":10,"v":0.53},{"i":11,"j":10,"v":0.72},{"i":12,"j":10,"v":1},{"i":13,"j":10,"v":1},{"i":14,"j":10,"v":1},{"i":15,"j":10,"v":1},{"i":16,"j":10,"v":0.95},{"i":17,"j":10,"v":1},{"i":18,"j":10,"v":1},{"i":19,"j":10,"v":0.66},{"i":20,"j":10,"v":0.63},{"i":21,"j":10,"v":0.68},
{"i":3,"j":11,"v":0.01},{"i":4,"j":11,"v":0.01},{"i":5,"j":11,"v":0.02},{"i":6,"j":11,"v":0.05},{"i":7,"j":11,"v":0.09},{"i":8,"j":11,"v":0.08},{"i":9,"j":11,"v":0.12},{"i":10,"j":11,"v":0.22},{"i":11,"j":11,"v":0.42},{"i":12,"j":11,"v":0.6},{"i":13,"j":11,"v":0.55},{"i":14,"j":11,"v":0.7},{"i":15,"j":11,"v":0.62},{"i":16,"j":11,"v":1},{"i":17,"j":11,"v":0.55},{"i":18,"j":11,"v":0.85},{"i":19,"j":11,"v":0.5},{"i":20,"j":11,"v":0.5},
{"i":4,"j":12,"v":0.01},{"i":5,"j":12,"v":0.01},{"i":6,"j":12,"v":0.02},{"i":7,"j":12,"v":0.03},{"i":8,"j":12,"v":0.05},{"i":9,"j":12,"v":0.07},{"i":10,"j":12,"v":0.12},{"i":11,"j":12,"v":0.18},{"i":12,"j":12,"v":0.42},{"i":13,"j":12,"v":0.43},{"i":14,"j":12,"v":0.42},{"i":15,"j":12,"v":0.48},{"i":16,"j":12,"v":0.76},{"i":17,"j":12,"v":0.52},{"i":18,"j":12,"v":1},{"i":19,"j":12,"v":0.35},{"i":22,"j":12,"v":0.7},{"i":23,"j":12,"v":1},
{"i":4,"j":13,"v":0.01},{"i":5,"j":13,"v":0.01},{"i":6,"j":13,"v":0.01},{"i":7,"j":13,"v":0.01},{"i":8,"j":13,"v":0.02},{"i":9,"j":13,"v":0.03},{"i":10,"j":13,"v":0.06},{"i":11,"j":13,"v":0.07},{"i":12,"j":13,"v":0.2},{"i":13,"j":13,"v":0.22},{"i":14,"j":13,"v":0.5},{"i":15,"j":13,"v":0.42},{"i":16,"j":13,"v":0.84},{"i":17,"j":13,"v":0.5},{"i":18,"j":13,"v":0.92},{"i":19,"j":13,"v":1},{"i":20,"j":13,"v":0.9},{"i":21,"j":13,"v":0.45},{"i":22,"j":13,"v":0.72},
{"i":6,"j":14,"v":0.01},{"i":7,"j":14,"v":0.01},{"i":9,"j":14,"v":0.01},{"i":10,"j":14,"v":0.03},{"i":11,"j":14,"v":0.04},{"i":12,"j":14,"v":0.08},{"i":13,"j":14,"v":0.13},{"i":14,"j":14,"v":0.09},{"i":15,"j":14,"v":0.14},{"i":16,"j":14,"v":0.3},{"i":17,"j":14,"v":0.43},{"i":18,"j":14,"v":0.7},{"i":19,"j":14,"v":0.86},{"i":20,"j":14,"v":0.9},{"i":22,"j":14,"v":1},
{"i":9,"j":15,"v":0.01},{"i":10,"j":15,"v":0.01},{"i":11,"j":15,"v":0.01},{"i":12,"j":15,"v":0.01},{"i":13,"j":15,"v":0.06},{"i":14,"j":15,"v":0.07},{"i":15,"j":15,"v":0.11},{"i":16,"j":15,"v":0.22},{"i":17,"j":15,"v":0.26},{"i":18,"j":15,"v":0.38},{"i":19,"j":15,"v":0.5},{"i":20,"j":15,"v":0.74},{"i":22,"j":15,"v":1},{"i":23,"j":15,"v":0.6},{"i":24,"j":15,"v":1},
{"i":9,"j":16,"v":0.01},{"i":11,"j":16,"v":0.01},{"i":12,"j":16,"v":0.05},{"i":13,"j":16,"v":0.03},{"i":14,"j":16,"v":0.04},{"i":15,"j":16,"v":0.07},{"i":16,"j":16,"v":0.2},{"i":17,"j":16,"v":0.23},{"i":18,"j":16,"v":0.8},{"i":19,"j":16,"v":0.72},{"i":21,"j":16,"v":1},
{"i":12,"j":17,"v":0.02},{"i":17,"j":17,"v":0.06},{"i":18,"j":17,"v":0.24},{"i":19,"j":17,"v":0.29},{"i":20,"j":17,"v":0.5}],
"p5":[
{"i":0,"j":0,"v":0.27},{"i":1,"j":0,"v":0.1},{"i":2,"j":0,"v":0.06},{"i":3,"j":0,"v":0.03},{"i":4,"j":0,"v":0.02},{"i":5,"j":0,"v":0.01},{"i":6,"j":0,"v":0.01},
{"i":0,"j":1,"v":1},{"i":1,"j":1,"v":0.8},{"i":2,"j":1,"v":0.53},{"i":3,"j":1,"v":0.28},{"i":4,"j":1,"v":0.14},{"i":5,"j":1,"v":0.1},{"i":6,"j":1,"v":0.08},{"i":7,"j":1,"v":0.05},{"i":8,"j":1,"v":0.05},{"i":9,"j":1,"v":0.04},{"i":10,"j":1,"v":0.03},{"i":11,"j":1,"v":0.02},{"i":12,"j":1,"v":0.03},
{"i":0,"j":2,"v":0.75},{"i":1,"j":2,"v":1},{"i":2,"j":2,"v":0.92},{"i":3,"j":2,"v":0.6},{"i":4,"j":2,"v":0.38},{"i":5,"j":2,"v":0.29},{"i":6,"j":2,"v":0.2},{"i":7,"j":2,"v":0.16},{"i":8,"j":2,"v":0.09},{"i":9,"j":2,"v":0.08},{"i":10,"j":2,"v":0.06},{"i":11,"j":2,"v":0.06},{"i":12,"j":2,"v":0.05},{"i":13,"j":2,"v":0.05},{"i":14,"j":2,"v":0.04},
{"i":0,"j":3,"v":0.5},{"i":1,"j":3,"v":0.85},{"i":2,"j":3,"v":1},{"i":3,"j":3,"v":0.87},{"i":4,"j":3,"v":0.62},{"i":5,"j":3,"v":0.58},{"i":6,"j":3,"v":0.5},{"i":7,"j":3,"v":0.43},{"i":8,"j":3,"v":0.27},{"i":9,"j":3,"v":0.2},{"i":10,"j":3,"v":0.13},{"i":11,"j":3,"v":0.11},{"i":12,"j":3,"v":0.11},{"i":13,"j":3,"v":0.11},{"i":14,"j":3,"v":0.08},{"i":15,"j":3,"v":0.08},{"i":16,"j":3,"v":0.08},{"i":17,"j":3,"v":0.18},
{"i":0,"j":4,"v":0.38},{"i":1,"j":4,"v":0.62},{"i":2,"j":4,"v":0.92},{"i":3,"j":4,"v":1},{"i":4,"j":4,"v":1},{"i":5,"j":4,"v":1},{"i":6,"j":4,"v":1},{"i":7,"j":4,"v":0.97},{"i":8,"j":4,"v":0.65},{"i":9,"j":4,"v":0.48},{"i":10,"j":4,"v":0.42},{"i":11,"j":4,"v":0.38},{"i":12,"j":4,"v":0.28},{"i":13,"j":4,"v":0.2},{"i":14,"j":4,"v":0.18},{"i":15,"j":4,"v":0.24},{"i":16,"j":4,"v":0.22},{"i":17,"j":4,"v":0.37},
{"i":0,"j":5,"v":0.08},{"i":1,"j":5,"v":0.22},{"i":2,"j":5,"v":0.42},{"i":3,"j":5,"v":0.49},{"i":4,"j":5,"v":0.55},{"i":5,"j":5,"v":0.65},{"i":6,"j":5,"v":0.85},{"i":7,"j":5,"v":0.92},{"i":8,"j":5,"v":0.7},{"i":9,"j":5,"v":0.57},{"i":10,"j":5,"v":0.45},{"i":11,"j":5,"v":0.38},{"i":12,"j":5,"v":0.33},{"i":13,"j":5,"v":0.3},{"i":14,"j":5,"v":0.22},{"i":15,"j":5,"v":0.18},{"i":16,"j":5,"v":0.1},{"i":17,"j":5,"v":0.19},{"i":18,"j":5,"v":0.25},{"i":19,"j":5,"v":0.42},{"i":20,"j":5,"v":0.72},
{"i":0,"j":6,"v":0.05},{"i":1,"j":6,"v":0.13},{"i":2,"j":6,"v":0.22},{"i":3,"j":6,"v":0.33},{"i":4,"j":6,"v":0.42},{"i":5,"j":6,"v":0.48},{"i":6,"j":6,"v":0.73},{"i":7,"j":6,"v":0.93},{"i":8,"j":6,"v":0.77},{"i":9,"j":6,"v":0.73},{"i":10,"j":6,"v":0.6},{"i":11,"j":6,"v":0.6},{"i":12,"j":6,"v":0.42},{"i":13,"j":6,"v":0.4},{"i":14,"j":6,"v":0.33},{"i":15,"j":6,"v":0.3},{"i":16,"j":6,"v":0.42},{"i":17,"j":6,"v":0.38},{"i":18,"j":6,"v":0.58},{"i":19,"j":6,"v":0.77},{"i":20,"j":6,"v":0.72},{"i":23,"j":6,"v":0.83},
{"i":0,"j":7,"v":0.03},{"i":1,"j":7,"v":0.05},{"i":2,"j":7,"v":0.11},{"i":3,"j":7,"v":0.2},{"i":4,"j":7,"v":0.3},{"i":5,"j":7,"v":0.42},{"i":6,"j":7,"v":0.66},{"i":7,"j":7,"v":1},{"i":8,"j":7,"v":1},{"i":9,"j":7,"v":1},{"i":10,"j":7,"v":1},{"i":11,"j":7,"v":1},{"i":12,"j":7,"v":0.84},{"i":13,"j":7,"v":0.8},{"i":14,"j":7,"v":0.62},{"i":15,"j":7,"v":0.45},{"i":16,"j":7,"v":0.6},{"i":17,"j":7,"v":0.7},{"i":18,"j":7,"v":0.5},{"i":19,"j":7,"v":0.78},{"i":20,"j":7,"v":0.85},{"i":21,"j":7,"v":0.68},{"i":22,"j":7,"v":0.4},{"i":25,"j":7,"v":1},
{"i":0,"j":8,"v":0.01},{"i":1,"j":8,"v":0.02},{"i":2,"j":8,"v":0.05},{"i":3,"j":8,"v":0.07},{"i":4,"j":8,"v":0.09},{"i":5,"j":8,"v":0.15},{"i":6,"j":8,"v":0.28},{"i":7,"j":8,"v":0.5},{"i":8,"j":8,"v":0.52},{"i":9,"j":8,"v":0.63},{"i":10,"j":8,"v":0.72},{"i":11,"j":8,"v":0.75},{"i":12,"j":8,"v":0.75},{"i":13,"j":8,"v":0.76},{"i":14,"j":8,"v":0.7},{"i":15,"j":8,"v":0.47},{"i":16,"j":8,"v":0.52},{"i":17,"j":8,"v":0.55},{"i":18,"j":8,"v":0.6},{"i":19,"j":8,"v":0.62},{"i":20,"j":8,"v":0.7},{"i":21,"j":8,"v":0.65},
{"i":1,"j":9,"v":0.01},{"i":2,"j":9,"v":0.02},{"i":3,"j":9,"v":0.03},{"i":4,"j":9,"v":0.05},{"i":5,"j":9,"v":0.07},{"i":6,"j":9,"v":0.14},{"i":7,"j":9,"v":0.28},{"i":8,"j":9,"v":0.35},{"i":9,"j":9,"v":0.43},{"i":10,"j":9,"v":0.6},{"i":11,"j":9,"v":0.73},{"i":12,"j":9,"v":0.92},{"i":13,"j":9,"v":0.87},{"i":14,"j":9,"v":0.8},{"i":15,"j":9,"v":0.6},{"i":16,"j":9,"v":0.68},{"i":17,"j":9,"v":0.7},{"i":18,"j":9,"v":0.66},{"i":19,"j":9,"v":0.93},{"i":20,"j":9,"v":1},
{"i":1,"j":10,"v":0.01},{"i":2,"j":10,"v":0.02},{"i":3,"j":10,"v":0.03},{"i":4,"j":10,"v":0.04},{"i":5,"j":10,"v":0.07},{"i":6,"j":10,"v":0.11},{"i":7,"j":10,"v":0.2},{"i":8,"j":10,"v":0.23},{"i":9,"j":10,"v":0.42},{"i":10,"j":10,"v":0.52},{"i":11,"j":10,"v":0.75},{"i":12,"j":10,"v":1},{"i":13,"j":10,"v":1},{"i":14,"j":10,"v":1},{"i":15,"j":10,"v":1},{"i":16,"j":10,"v":1},{"i":17,"j":10,"v":1},{"i":18,"j":10,"v":1},{"i":19,"j":10,"v":0.62},{"i":20,"j":10,"v":0.7},{"i":21,"j":10,"v":1},
{"i":2,"j":11,"v":0.01},{"i":3,"j":11,"v":0.01},{"i":4,"j":11,"v":0.01},{"i":5,"j":11,"v":0.02},{"i":6,"j":11,"v":0.05},{"i":7,"j":11,"v":0.08},{"i":8,"j":11,"v":0.09},{"i":9,"j":11,"v":0.11},{"i":10,"j":11,"v":0.2},{"i":11,"j":11,"v":0.42},{"i":12,"j":11,"v":0.55},{"i":13,"j":11,"v":0.62},{"i":14,"j":11,"v":0.7},{"i":15,"j":11,"v":0.7},{"i":16,"j":11,"v":0.7},{"i":17,"j":11,"v":0.88},{"i":18,"j":11,"v":0.63},{"i":19,"j":11,"v":0.62},{"i":20,"j":11,"v":0.85},{"i":21,"j":11,"v":0.82},{"i":23,"j":11,"v":0.82},
{"i":4,"j":12,"v":0.01},{"i":5,"j":12,"v":0.01},{"i":6,"j":12,"v":0.03},{"i":7,"j":12,"v":0.03},{"i":8,"j":12,"v":0.04},{"i":9,"j":12,"v":0.06},{"i":10,"j":12,"v":0.11},{"i":11,"j":12,"v":0.17},{"i":12,"j":12,"v":0.37},{"i":13,"j":12,"v":0.42},{"i":14,"j":12,"v":0.47},{"i":15,"j":12,"v":0.47},{"i":16,"j":12,"v":0.7},{"i":17,"j":12,"v":0.84},{"i":18,"j":12,"v":0.7},{"i":19,"j":12,"v":0.6},{"i":20,"j":12,"v":0.58},{"i":21,"j":12,"v":1},{"i":22,"j":12,"v":0.38},
{"i":4,"j":13,"v":0.01},{"i":5,"j":13,"v":0.01},{"i":6,"j":13,"v":0.01},{"i":7,"j":13,"v":0.01},{"i":8,"j":13,"v":0.02},{"i":9,"j":13,"v":0.03},{"i":10,"j":13,"v":0.07},{"i":11,"j":13,"v":0.09},{"i":12,"j":13,"v":0.2},{"i":13,"j":13,"v":0.27},{"i":14,"j":13,"v":0.43},{"i":15,"j":13,"v":0.33},{"i":16,"j":13,"v":0.65},{"i":17,"j":13,"v":0.75},{"i":18,"j":13,"v":0.8},{"i":19,"j":13,"v":1},{"i":20,"j":13,"v":0.85},{"i":22,"j":13,"v":1},{"i":23,"j":13,"v":1},
{"i":6,"j":14,"v":0.01},{"i":8,"j":14,"v":0.01},{"i":9,"j":14,"v":0.01},{"i":10,"j":14,"v":0.02},{"i":11,"j":14,"v":0.02},{"i":12,"j":14,"v":0.06},{"i":13,"j":14,"v":0.08},{"i":14,"j":14,"v":0.08},{"i":15,"j":14,"v":0.13},{"i":16,"j":14,"v":0.2},{"i":17,"j":14,"v":0.48},{"i":18,"j":14,"v":0.84},{"i":19,"j":14,"v":0.93},{"i":20,"j":14,"v":0.6},{"i":21,"j":14,"v":0.7},
{"i":9,"j":15,"v":0.01},{"i":10,"j":15,"v":0.01},{"i":11,"j":15,"v":0.01},{"i":13,"j":15,"v":0.02},{"i":14,"j":15,"v":0.06},{"i":15,"j":15,"v":0.08},{"i":16,"j":15,"v":0.09},{"i":17,"j":15,"v":0.27},{"i":18,"j":15,"v":0.2},{"i":21,"j":15,"v":1},{"i":22,"j":15,"v":0.42},
{"i":12,"j":16,"v":0.03},{"i":13,"j":16,"v":0.03},{"i":14,"j":16,"v":0.02},{"i":15,"j":16,"v":0.05},{"i":16,"j":16,"v":0.15},{"i":17,"j":16,"v":0.26},{"i":18,"j":16,"v":0.25},{"i":19,"j":16,"v":0.45},{"i":20,"j":16,"v":0.72},
{"i":19,"j":17,"v":0.3}]
},
"concat":[
{"width":600,"height":582,"view":{"stroke":null,"fill":null},"data":{"name":"intro"},"mark":{"type":"text","align":"left","baseline":"middle","font":"Roboto","fontWeight":300,"fontSize":73,"color":"#111","dx":-64},"encoding":{"x":{"datum":0,"type":"quantitative","scale":{"domain":[0,1]},"axis":null},"y":{"field":"line","type":"quantitative","scale":{"domain":[6.995,0.792],"nice":false,"zero":false},"axis":null},"text":{"field":"text"}}},
{"width":314,"height":582,"view":{"stroke":null,"fill":null},"data":{"values":[{"a":0}]},"mark":{"type":"point","opacity":0},"encoding":{}},
{"width":600,"height":582,"title":"Prediction horizon 0 hours (back)","layer":[
{"data":{"name":"p1"},"transform":[{"lookup":"i","from":{"data":{"name":"bins"},"key":"i","fields":["lo","hi"]},"as":["x0","x1"]},{"lookup":"j","from":{"data":{"name":"bins"},"key":"i","fields":["lo","hi"]},"as":["y0","y1"]}],"mark":"rect","encoding":{"x":{"field":"x0","type":"quantitative","scale":{"domain":[0,9.33],"nice":false},"axis":{"values":[0,2,4,6,8],"format":"d","title":"Observed Kp"}},"x2":{"field":"x1"},"y":{"field":"y0","type":"quantitative","scale":{"domain":[0,9.33],"nice":false},"axis":{"values":[0,1,2,3,4,5,6,7,8,9],"format":"d","title":"Predicted Kp"}},"y2":{"field":"y1"},"color":{"field":"v","type":"quantitative","scale":{"scheme":"spectral","reverse":true,"domain":[0,1]},"legend":{"title":null,"orient":"none","legendX":619.5,"legendY":1,"gradientLength":578,"gradientThickness":38,"values":[0,0.1,0.2,0.3,0.4,0.5,0.6,0.7,0.8,0.9,1],"format":".1~f","labelOverlap":false,"gradientStrokeColor":"#444","gradientStrokeWidth":1,"labelOffset":10,"encoding":{"labels":{"baseline":{"value":"middle"}}}}}}},
{"data":{"name":"f1"},"mark":{"type":"line","strokeWidth":3.5,"strokeDash":[16,13]},"encoding":{"x":{"field":"x","type":"quantitative"},"y":{"field":"y","type":"quantitative"},"stroke":{"field":"fit","type":"nominal","scale":{"domain":["Ideal fit","Obtained fit"],"range":["#000000","#0000ff"]},"legend":{"title":null,"orient":"none","legendX":374,"legendY":492,"fillColor":"white","strokeColor":"#222","padding":4,"symbolType":"M-1,0H3","symbolSize":576,"symbolStrokeWidth":3.5,"symbolDash":[15,18],"labelOffset":23,"rowPadding":5,"labelFontSize":28,"labelLimit":300}}}},
{"data":{"values":[{"x":1,"y":8,"t":"CC = 0.93"}]},"mark":{"type":"text","align":"left","baseline":"middle","color":"#ff0000","fontWeight":"bold","fontSize":35},"encoding":{"x":{"field":"x","type":"quantitative"},"y":{"field":"y","type":"quantitative"},"text":{"field":"t"}}}]},
{"width":320.4,"height":582,"view":{"stroke":null,"fill":null},"data":{"values":[{"a":0}]},"mark":{"type":"point","opacity":0},"encoding":{}},
{"width":600,"height":582,"title":"Prediction horizon 0 hours","layer":[
{"data":{"name":"p2"},"transform":[{"lookup":"i","from":{"data":{"name":"bins"},"key":"i","fields":["lo","hi"]},"as":["x0","x1"]},{"lookup":"j","from":{"data":{"name":"bins"},"key":"i","fields":["lo","hi"]},"as":["y0","y1"]}],"mark":"rect","encoding":{"x":{"field":"x0","type":"quantitative","scale":{"domain":[0,9.33],"nice":false},"axis":{"values":[0,2,4,6,8],"format":"d","title":"Observed Kp"}},"x2":{"field":"x1"},"y":{"field":"y0","type":"quantitative","scale":{"domain":[0,9.33],"nice":false},"axis":{"values":[0,1,2,3,4,5,6,7,8,9],"format":"d","title":"Predicted Kp"}},"y2":{"field":"y1"},"color":{"field":"v","type":"quantitative","scale":{"scheme":"spectral","reverse":true,"domain":[0,1]},"legend":{"title":null,"orient":"none","legendX":619.5,"legendY":1,"gradientLength":578,"gradientThickness":38,"values":[0,0.1,0.2,0.3,0.4,0.5,0.6,0.7,0.8,0.9,1],"format":".1~f","labelOverlap":false,"gradientStrokeColor":"#444","gradientStrokeWidth":1,"labelOffset":10,"encoding":{"labels":{"baseline":{"value":"middle"}}}}}}},
{"data":{"name":"f2"},"mark":{"type":"line","strokeWidth":3.5,"strokeDash":[16,13]},"encoding":{"x":{"field":"x","type":"quantitative"},"y":{"field":"y","type":"quantitative"},"stroke":{"field":"fit","type":"nominal","scale":{"domain":["Ideal fit","Obtained fit"],"range":["#000000","#0000ff"]},"legend":{"title":null,"orient":"none","legendX":374,"legendY":492,"fillColor":"white","strokeColor":"#222","padding":4,"symbolType":"M-1,0H3","symbolSize":576,"symbolStrokeWidth":3.5,"symbolDash":[15,18],"labelOffset":23,"rowPadding":5,"labelFontSize":28,"labelLimit":300}}}},
{"data":{"values":[{"x":1,"y":8,"t":"CC = 0.86"}]},"mark":{"type":"text","align":"left","baseline":"middle","color":"#ff0000","fontWeight":"bold","fontSize":35},"encoding":{"x":{"field":"x","type":"quantitative"},"y":{"field":"y","type":"quantitative"},"text":{"field":"t"}}}]},
{"width":600,"height":582,"title":"Prediction horizon 3 hours","layer":[
{"data":{"name":"p3"},"transform":[{"lookup":"i","from":{"data":{"name":"bins"},"key":"i","fields":["lo","hi"]},"as":["x0","x1"]},{"lookup":"j","from":{"data":{"name":"bins"},"key":"i","fields":["lo","hi"]},"as":["y0","y1"]}],"mark":"rect","encoding":{"x":{"field":"x0","type":"quantitative","scale":{"domain":[0,9.33],"nice":false},"axis":{"values":[0,2,4,6,8],"format":"d","title":"Observed Kp"}},"x2":{"field":"x1"},"y":{"field":"y0","type":"quantitative","scale":{"domain":[0,9.33],"nice":false},"axis":{"values":[0,1,2,3,4,5,6,7,8,9],"format":"d","title":"Predicted Kp"}},"y2":{"field":"y1"},"color":{"field":"v","type":"quantitative","scale":{"scheme":"spectral","reverse":true,"domain":[0,1]},"legend":{"title":null,"orient":"none","legendX":619.5,"legendY":1,"gradientLength":578,"gradientThickness":38,"values":[0,0.1,0.2,0.3,0.4,0.5,0.6,0.7,0.8,0.9,1],"format":".1~f","labelOverlap":false,"gradientStrokeColor":"#444","gradientStrokeWidth":1,"labelOffset":10,"encoding":{"labels":{"baseline":{"value":"middle"}}}}}}},
{"data":{"name":"f3"},"mark":{"type":"line","strokeWidth":3.5,"strokeDash":[16,13]},"encoding":{"x":{"field":"x","type":"quantitative"},"y":{"field":"y","type":"quantitative"},"stroke":{"field":"fit","type":"nominal","scale":{"domain":["Ideal fit","Obtained fit"],"range":["#000000","#0000ff"]},"legend":{"title":null,"orient":"none","legendX":374,"legendY":492,"fillColor":"white","strokeColor":"#222","padding":4,"symbolType":"M-1,0H3","symbolSize":576,"symbolStrokeWidth":3.5,"symbolDash":[15,18],"labelOffset":23,"rowPadding":5,"labelFontSize":28,"labelLimit":300}}}},
{"data":{"values":[{"x":1,"y":8,"t":"CC = 0.76"}]},"mark":{"type":"text","align":"left","baseline":"middle","color":"#ff0000","fontWeight":"bold","fontSize":35},"encoding":{"x":{"field":"x","type":"quantitative"},"y":{"field":"y","type":"quantitative"},"text":{"field":"t"}}}]},
{"width":314,"height":582,"view":{"stroke":null,"fill":null},"data":{"values":[{"a":0}]},"mark":{"type":"point","opacity":0},"encoding":{}},
{"width":600,"height":582,"title":"Prediction horizon 6 hours","layer":[
{"data":{"name":"p4"},"transform":[{"lookup":"i","from":{"data":{"name":"bins"},"key":"i","fields":["lo","hi"]},"as":["x0","x1"]},{"lookup":"j","from":{"data":{"name":"bins"},"key":"i","fields":["lo","hi"]},"as":["y0","y1"]}],"mark":"rect","encoding":{"x":{"field":"x0","type":"quantitative","scale":{"domain":[0,9.33],"nice":false},"axis":{"values":[0,2,4,6,8],"format":"d","title":"Observed Kp"}},"x2":{"field":"x1"},"y":{"field":"y0","type":"quantitative","scale":{"domain":[0,9.33],"nice":false},"axis":{"values":[0,1,2,3,4,5,6,7,8,9],"format":"d","title":"Predicted Kp"}},"y2":{"field":"y1"},"color":{"field":"v","type":"quantitative","scale":{"scheme":"spectral","reverse":true,"domain":[0,1]},"legend":{"title":null,"orient":"none","legendX":619.5,"legendY":1,"gradientLength":578,"gradientThickness":38,"values":[0,0.1,0.2,0.3,0.4,0.5,0.6,0.7,0.8,0.9,1],"format":".1~f","labelOverlap":false,"gradientStrokeColor":"#444","gradientStrokeWidth":1,"labelOffset":10,"encoding":{"labels":{"baseline":{"value":"middle"}}}}}}},
{"data":{"name":"f4"},"mark":{"type":"line","strokeWidth":3.5,"strokeDash":[16,13]},"encoding":{"x":{"field":"x","type":"quantitative"},"y":{"field":"y","type":"quantitative"},"stroke":{"field":"fit","type":"nominal","scale":{"domain":["Ideal fit","Obtained fit"],"range":["#000000","#0000ff"]},"legend":{"title":null,"orient":"none","legendX":374,"legendY":492,"fillColor":"white","strokeColor":"#222","padding":4,"symbolType":"M-1,0H3","symbolSize":576,"symbolStrokeWidth":3.5,"symbolDash":[15,18],"labelOffset":23,"rowPadding":5,"labelFontSize":28,"labelLimit":300}}}},
{"data":{"values":[{"x":1,"y":8,"t":"CC = 0.70"}]},"mark":{"type":"text","align":"left","baseline":"middle","color":"#ff0000","fontWeight":"bold","fontSize":35},"encoding":{"x":{"field":"x","type":"quantitative"},"y":{"field":"y","type":"quantitative"},"text":{"field":"t"}}}]},
{"width":320.4,"height":582,"view":{"stroke":null,"fill":null},"data":{"values":[{"a":0}]},"mark":{"type":"point","opacity":0},"encoding":{}},
{"width":600,"height":582,"title":"Prediction horizon 9 hours","layer":[
{"data":{"name":"p5"},"transform":[{"lookup":"i","from":{"data":{"name":"bins"},"key":"i","fields":["lo","hi"]},"as":["x0","x1"]},{"lookup":"j","from":{"data":{"name":"bins"},"key":"i","fields":["lo","hi"]},"as":["y0","y1"]}],"mark":"rect","encoding":{"x":{"field":"x0","type":"quantitative","scale":{"domain":[0,9.33],"nice":false},"axis":{"values":[0,2,4,6,8],"format":"d","title":"Observed Kp"}},"x2":{"field":"x1"},"y":{"field":"y0","type":"quantitative","scale":{"domain":[0,9.33],"nice":false},"axis":{"values":[0,1,2,3,4,5,6,7,8,9],"format":"d","title":"Predicted Kp"}},"y2":{"field":"y1"},"color":{"field":"v","type":"quantitative","scale":{"scheme":"spectral","reverse":true,"domain":[0,1]},"legend":{"title":null,"orient":"none","legendX":619.5,"legendY":1,"gradientLength":578,"gradientThickness":38,"values":[0,0.1,0.2,0.3,0.4,0.5,0.6,0.7,0.8,0.9,1],"format":".1~f","labelOverlap":false,"gradientStrokeColor":"#444","gradientStrokeWidth":1,"labelOffset":10,"encoding":{"labels":{"baseline":{"value":"middle"}}}}}}},
{"data":{"name":"f5"},"mark":{"type":"line","strokeWidth":3.5,"strokeDash":[16,13]},"encoding":{"x":{"field":"x","type":"quantitative"},"y":{"field":"y","type":"quantitative"},"stroke":{"field":"fit","type":"nominal","scale":{"domain":["Ideal fit","Obtained fit"],"range":["#000000","#0000ff"]},"legend":{"title":null,"orient":"none","legendX":374,"legendY":492,"fillColor":"white","strokeColor":"#222","padding":4,"symbolType":"M-1,0H3","symbolSize":576,"symbolStrokeWidth":3.5,"symbolDash":[15,18],"labelOffset":23,"rowPadding":5,"labelFontSize":28,"labelLimit":300}}}},
{"data":{"values":[{"x":1,"y":8,"t":"CC = 0.70"}]},"mark":{"type":"text","align":"left","baseline":"middle","color":"#ff0000","fontWeight":"bold","fontSize":35},"encoding":{"x":{"field":"x","type":"quantitative"},"y":{"field":"y","type":"quantitative"},"text":{"field":"t"}}}]}
]}
